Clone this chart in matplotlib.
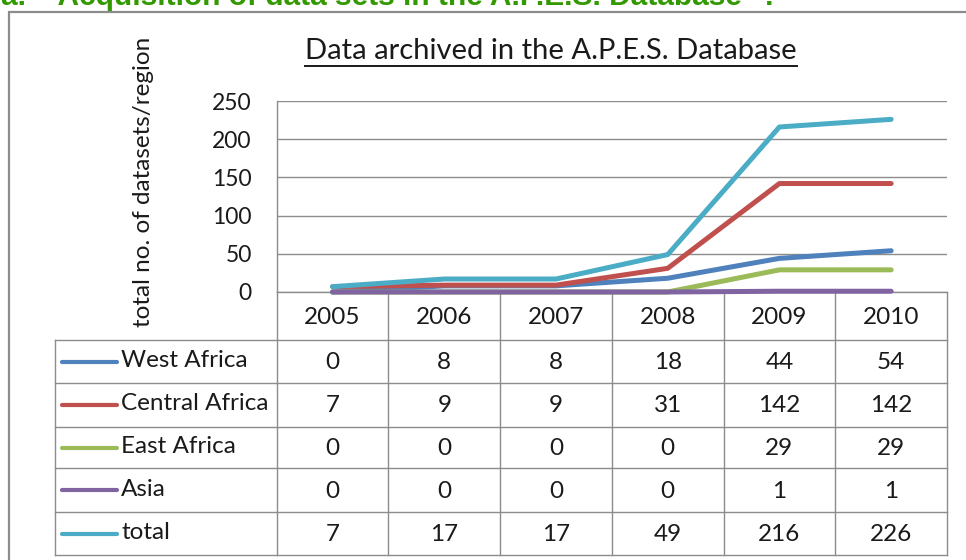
import numpy as np
import matplotlib.pyplot as plt
from matplotlib.patches import Rectangle

years = ['2005', '2006', '2007', '2008', '2009', '2010']
regions = ['West Africa', 'Central Africa', 'East Africa', 'Asia', 'total']
west_africa = [0, 8, 8, 18, 44, 54]
central_africa = [7, 9, 9, 31, 142, 142]
east_africa = [0, 0, 0, 0, 29, 29]
asia = [0, 0, 0, 0, 1, 1]
total = [7, 17, 17, 49, 216, 226]
colors = ['#4F81BD', '#C0504D', '#9BBB59', '#8064A2', '#4BACC6']

W, H = 966, 560
FONT = 'Lato'
TXT = '#1a1a1a'
GRID = '#8c8c8c'


def fx(px):
    return px / W


def fy(py):
    return 1 - py / H


fig = plt.figure(figsize=(W / 100, H / 100), dpi=100)

# heading cut off at the top of the picture
fig.text(fx(1), fy(5), 'a.  \u201cAcquisition of data sets in the A.P.E.S. Database\u201d .',
         color='#339900', fontsize=21.5, fontweight='bold', family='Liberation Sans',
         ha='left', va='baseline')

# chart area border
fig.patches.append(Rectangle((fx(9), fy(1200)), 2, fy(12) - fy(1200), transform=fig.transFigure,
                             fill=False, edgecolor='#8c8c8c', linewidth=1.6))

# data table below the plot (drawn first so the series lie on top of it)
left, right, top, bottom = 276.7, 947, 101, 292
colw = (right - left) / 6
tleft = 55
tbottom = 555
row_edges = [292, 340, 383, 427, 468, 512, 555]
tax = fig.add_axes([fx(tleft), fy(tbottom), fx(right) - fx(tleft), fy(bottom) - fy(tbottom)])
tax.set_xlim(-(left - tleft) / colw, 6)
tax.set_ylim(tbottom, bottom)
tax.axis('off')

lw = 1.0
for k in range(7):
    tax.plot([k, k], [row_edges[0], row_edges[-1]], color=GRID, linewidth=lw, clip_on=False)
xl = -(left - tleft) / colw
tax.plot([xl, xl], [row_edges[1], row_edges[-1]], color=GRID, linewidth=lw, clip_on=False)
for e in row_edges[1:]:
    tax.plot([xl, 6], [e, e], color=GRID, linewidth=lw, clip_on=False)

series = [west_africa, central_africa, east_africa, asia, total]

for j, yr in enumerate(years):
    tax.text(j + 0.5, (row_edges[0] + row_edges[1]) / 2 + 1, yr, ha='center', va='center',
             fontsize=17.5, family=FONT, color=TXT)

for i, (name, vals, c) in enumerate(zip(regions, series, colors)):
    yc = (row_edges[i + 1] + row_edges[i + 2]) / 2
    tax.plot([(62 - left) / colw, (117 - left) / colw], [yc, yc], color=c, linewidth=3.0,
             solid_capstyle='round', clip_on=False)
    tax.text((121 - left) / colw, yc - 1, name, ha='left', va='center', fontsize=17.5,
             family=FONT, color=TXT)
    for j, v in enumerate(vals):
        tax.text(j + 0.5, yc + 1, str(v), ha='center', va='center', fontsize=17.5,
                 family=FONT, color=TXT)

# plot area
ax = fig.add_axes([fx(left), fy(bottom), fx(right) - fx(left), fy(top) - fy(bottom)])
ax.patch.set_alpha(0)
x = np.arange(len(years)) + 0.5
for vals, c in zip(series, colors):
    ax.plot(x, vals, color=c, linewidth=3.6, solid_capstyle='round', solid_joinstyle='round',
            clip_on=False, zorder=3)
ax.set_xlim(0, 6)
ax.set_ylim(0, 250)
ax.set_yticks(range(0, 251, 50))
ax.set_xticks([])
ax.grid(axis='y', color=GRID, linewidth=1.0)
ax.set_axisbelow(True)
for s in ['top', 'right']:
    ax.spines[s].set_visible(False)
for s in ['left', 'bottom']:
    ax.spines[s].set_color(GRID)
    ax.spines[s].set_linewidth(1.0)
    ax.spines[s].set_zorder(1)
ax.tick_params(axis='y', length=0, pad=18, labelsize=16.5, labelcolor=TXT)
for lab in ax.get_yticklabels():
    lab.set_family(FONT)

fig.text(fx(143), fy(182), 'total no. of datasets/region', rotation=90, ha='center', va='center',
         fontsize=17.5, family=FONT, color=TXT)

fig.text(fx(551), fy(51), 'Data archived in the A.P.E.S. Database', ha='center', va='center',
         fontsize=21, family=FONT, color=TXT)
fig.add_artist(plt.Line2D([fx(305), fx(797)], [fy(66), fy(66)], color=TXT, linewidth=1.4))

fig.savefig('out.png', dpi=100)
